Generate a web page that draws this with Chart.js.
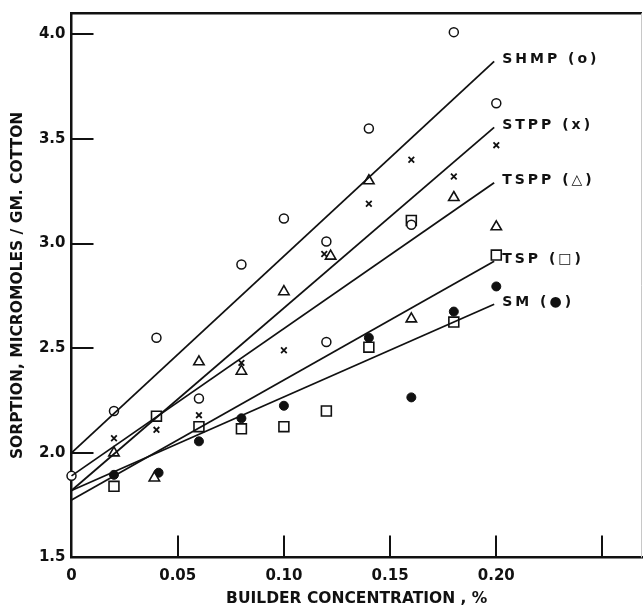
<!DOCTYPE html>
<html>
<head>
<meta charset="utf-8">
<title>Sorption vs builder concentration</title>
<script src="https://cdn.jsdelivr.net/npm/chart.js@4.4.1/dist/chart.umd.min.js"></script>
<style>
  html, body { margin: 0; padding: 0; background: #fff; }
  #wrap { width: 643px; height: 612px; }
</style>
</head>
<body>
<div id="wrap"><canvas id="c" width="643" height="612"></canvas></div>
<script>
// valores
const xTicks = [0, 0.05, 0.10, 0.15, 0.20, 0.25];
const xTickLabels = ['0', '0.05', '0.10', '0.15', '0.20', ''];
const yTicks = [1.5, 2.0, 2.5, 3.0, 3.5, 4.0];
const yTickLabels = ['1.5', '2.0', '2.5', '3.0', '3.5', '4.0'];

// SHMP (circulos)
const shmpX = [0, 0.02, 0.04, 0.06, 0.08, 0.10, 0.12, 0.12, 0.14, 0.16, 0.18, 0.20];
const shmpY = [1.89, 2.20, 2.55, 2.26, 2.90, 3.12, 3.01, 2.53, 3.55, 3.09, 4.01, 3.67];
// STPP (x)
const stppX = [0.02, 0.04, 0.06, 0.08, 0.10, 0.119, 0.14, 0.16, 0.18, 0.20];
const stppY = [2.07, 2.11, 2.18, 2.43, 2.49, 2.95, 3.19, 3.40, 3.32, 3.47];
// TSPP (triangulos)
const tsppX = [0.02, 0.039, 0.06, 0.08, 0.10, 0.122, 0.14, 0.16, 0.18, 0.20];
const tsppY = [2.00, 1.88, 2.435, 2.39, 2.77, 2.94, 3.30, 2.64, 3.22, 3.08];
// TSP (cuadrados)
const tspX = [0.02, 0.04, 0.06, 0.08, 0.10, 0.12, 0.14, 0.16, 0.18, 0.20];
const tspY = [1.84, 2.175, 2.125, 2.115, 2.125, 2.20, 2.505, 3.11, 2.625, 2.945];
// SM (puntos llenos)
const smX = [0.02, 0.041, 0.06, 0.08, 0.10, 0.14, 0.16, 0.18, 0.20];
const smY = [1.895, 1.905, 2.055, 2.165, 2.225, 2.55, 2.265, 2.675, 2.795];

// rectas ajustadas
const fitNames = ['SHMP (o)', 'STPP (x)', 'TSPP (\u25B3)', 'TSP (\u25A1)', 'SM (\u25CF)'];
const fitX = [0, 0.199];
const fitStart = [2.00, 1.82, 1.89, 1.775, 1.82];
const fitEnd = [3.87, 3.555, 3.29, 2.915, 2.71];

const INK = '#111';
const FONT = 'DejaVu Sans';

function pts(xs, ys) {
  return xs.map((x, i) => ({ x, y: ys[i] }));
}

function markers(xs, ys, style, radius, filled, bw) {
  return {
    data: pts(xs, ys),
    showLine: false,
    pointStyle: style,
    pointRadius: radius,
    pointHoverRadius: radius,
    pointBorderWidth: bw,
    pointBorderColor: INK,
    pointBackgroundColor: filled ? INK : '#fff',
    clip: false
  };
}

const datasets = [];
fitStart.forEach((y0, i) => {
  datasets.push({
    data: [{ x: fitX[0], y: y0 }, { x: fitX[1], y: fitEnd[i] }],
    showLine: true,
    borderColor: INK,
    borderWidth: 1.8,
    pointRadius: 0,
    fill: false,
    clip: false
  });
});
datasets.push(markers(shmpX, shmpY, 'circle', 4.5, false, 1.5));
datasets.push(markers(stppX, stppY, 'crossRot', 4, false, 1.8));
datasets.push(markers(tsppX, tsppY, 'triangle', 6, false, 1.6));
datasets.push(markers(tspX, tspY, 'rect', 7, false, 1.6));
datasets.push(markers(smX, smY, 'circle', 4.5, true, 1));

// marcas hacia adentro + marco superior/derecho
const frame = {
  id: 'frame',
  afterDatasetsDraw(chart) {
    const { ctx, chartArea: a, scales: { x, y } } = chart;
    ctx.save();
    ctx.strokeStyle = INK;
    ctx.lineWidth = 2;
    ctx.beginPath();
    y.ticks.forEach(t => {
      if (t.value <= y.min) return;
      const py = Math.round(y.getPixelForValue(t.value));
      ctx.moveTo(a.left, py);
      ctx.lineTo(a.left + 22, py);
    });
    x.ticks.forEach(t => {
      if (t.value <= x.min) return;
      const px = Math.round(x.getPixelForValue(t.value));
      ctx.moveTo(px, a.bottom);
      ctx.lineTo(px, a.bottom - 22);
    });
    ctx.stroke();

    ctx.lineWidth = 2.5;
    ctx.beginPath();
    ctx.moveTo(a.left, a.top);
    ctx.lineTo(a.right, a.top);
    ctx.stroke();

    ctx.strokeStyle = '#c8c8c8';
    ctx.lineWidth = 1;
    ctx.beginPath();
    ctx.moveTo(a.right - 0.5, a.top);
    ctx.lineTo(a.right - 0.5, a.bottom);
    ctx.stroke();

    // etiquetas de las rectas
    ctx.fillStyle = INK;
    ctx.font = 'bold 14px "' + FONT + '"';
    ctx.letterSpacing = '3px';
    ctx.textBaseline = 'middle';
    ctx.textAlign = 'left';
    fitNames.forEach((name, i) => {
      const px = x.getPixelForValue(fitX[1]) + 8;
      const py = y.getPixelForValue(fitEnd[i]) - 2;
      ctx.fillText(name, px, py);
    });
    ctx.restore();
  }
};

new Chart(document.getElementById('c'), {
  type: 'scatter',
  data: { datasets },
  plugins: [frame],
  options: {
    responsive: false,
    animation: false,
    events: [],
    layout: { autoPadding: false, padding: { top: 13.3, right: 1, left: 0, bottom: 0 } },
    plugins: { legend: { display: false }, tooltip: { enabled: false } },
    scales: {
      x: {
        type: 'linear',
        min: 0,
        max: 0.2686,
        afterBuildTicks: s => { s.ticks = xTicks.map(v => ({ value: v })); },
        afterFit: s => { s.height = 54.5; s.paddingLeft = 0; s.paddingRight = 0; },
        grid: { display: false, drawTicks: false, tickLength: 0 },
        border: { display: true, color: INK, width: 2.5 },
        ticks: {
          callback: (v, i) => xTickLabels[i],
          color: INK,
          font: { family: FONT, size: 15, weight: 'bold' },
          padding: 10,
          maxRotation: 0,
          autoSkip: false
        },
        title: {
          display: true,
          text: 'BUILDER CONCENTRATION , %',
          color: INK,
          font: { family: FONT, size: 15.5, weight: 'bold' },
          padding: { top: 0, bottom: 3.5 }
        }
      },
      y: {
        type: 'linear',
        min: 1.5,
        max: 4.1,
        afterBuildTicks: s => { s.ticks = yTicks.map(v => ({ value: v })); },
        afterFit: s => { s.width = 71.5; s.paddingTop = 0; s.paddingBottom = 0; },
        grid: { display: false, drawTicks: false, tickLength: 0 },
        border: { display: true, color: INK, width: 2.5 },
        ticks: {
          callback: (v, i) => yTickLabels[i],
          color: INK,
          font: { family: FONT, size: 15, weight: 'bold' },
          padding: 6,
          autoSkip: false
        },
        title: {
          display: true,
          text: 'SORPTION, MICROMOLES / GM. COTTON',
          color: INK,
          font: { family: FONT, size: 15.5, weight: 'bold' },
          padding: { top: 8.5, bottom: 0 }
        }
      }
    }
  }
});
</script>
</body>
</html>
